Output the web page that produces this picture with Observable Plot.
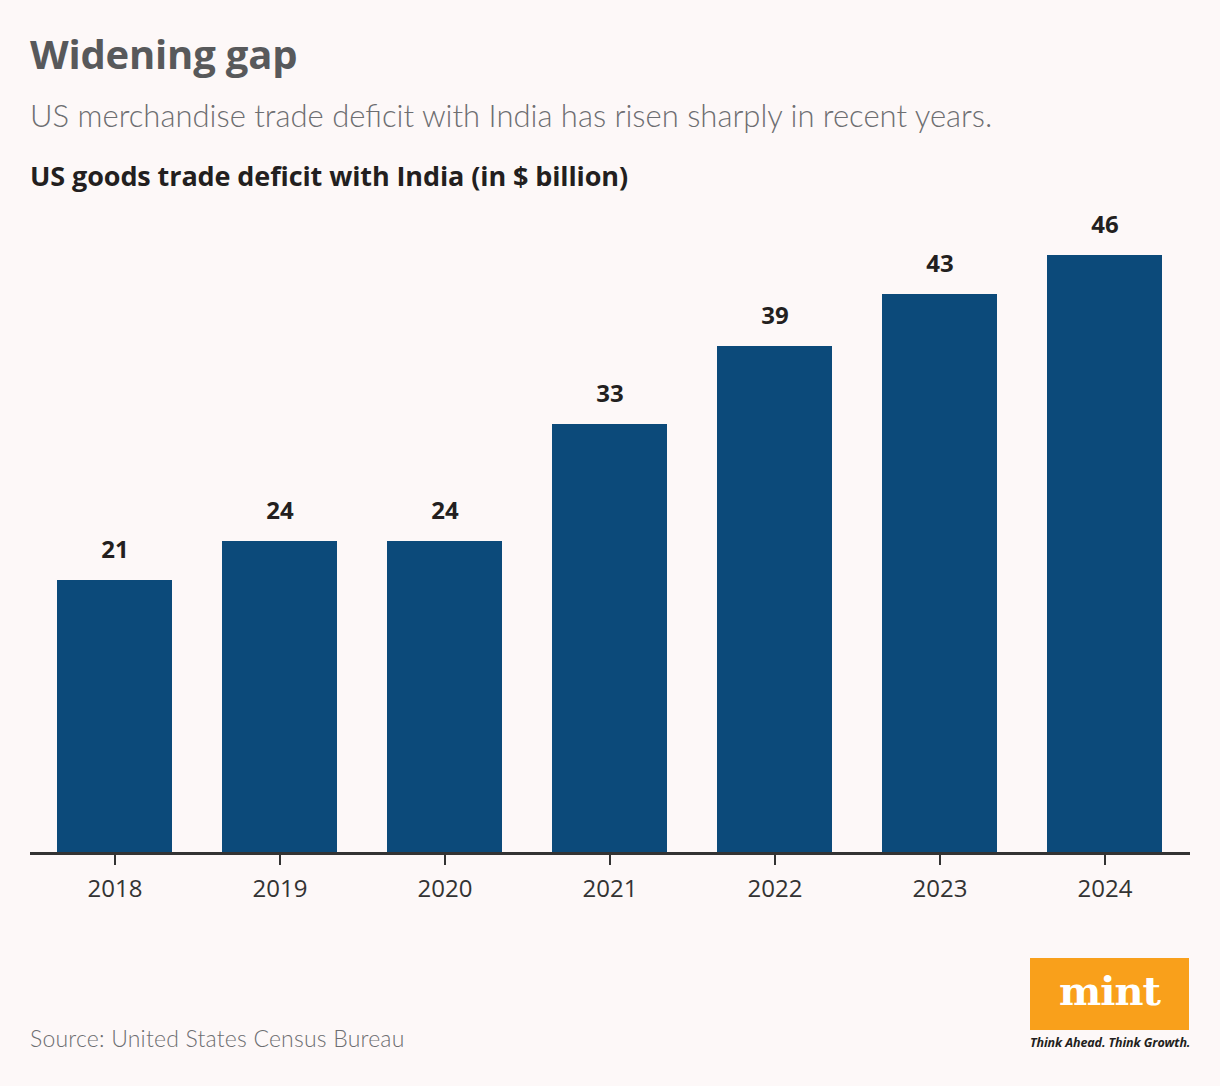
<!DOCTYPE html>
<html>
<head>
<meta charset="utf-8">
<script src="https://cdn.jsdelivr.net/npm/d3@7"></script>
<script src="https://cdn.jsdelivr.net/npm/@observablehq/plot@0.6"></script>
<style>
  html, body { margin: 0; padding: 0; background: #fdf8f8; }
  body { width: 1220px; height: 1086px; position: relative; overflow: hidden; font-family: "Open Sans", Lato, sans-serif; }
  .title { position: absolute; left: 30px; top: 26px; font-size: 40px; font-weight: 700; color: #58595b; letter-spacing: -0.2px; }
  .subtitle { position: absolute; left: 30px; top: 96px; font-size: 31px; font-weight: 300; color: #6d6e71; letter-spacing: 0px; font-family: Lato, "Open Sans", sans-serif; }
  .ctitle { position: absolute; left: 30px; top: 157px; font-size: 27px; font-weight: 700; color: #231f20; letter-spacing: -0.1px; }
  #chart { position: absolute; left: 0; top: 190px; }
  .source { position: absolute; left: 30px; top: 1024px; font-size: 23px; color: #6d6e71; font-family: Lato, "Open Sans", sans-serif; font-weight: 300; letter-spacing: 0.2px; }
  .logo { position: absolute; left: 1030px; top: 958px; width: 159px; height: 72px; background: #f9a01b; color: #fff; font-family: "DejaVu Serif", serif; font-weight: 700; font-size: 40px; text-align: center; line-height: 66px; letter-spacing: -1px; }
  .tag { position: absolute; left: 1030px; top: 1034px; width: 162px; font-size: 12.5px; font-style: italic; font-weight: 700; color: #231f20; font-family: "Open Sans", sans-serif; letter-spacing: -0.1px; white-space: nowrap; }
</style>
</head>
<body>
<div class="title">Widening gap</div>
<div class="subtitle">US merchandise trade deficit with India has risen sharply in recent years.</div>
<div class="ctitle">US goods trade deficit with India (in $ billion)</div>
<div id="chart"></div>
<div class="source">Source: United States Census Bureau</div>
<div class="logo">mint</div>
<div class="tag">Think Ahead. Think Growth.</div>
<script>
const years = ["2018", "2019", "2020", "2021", "2022", "2023", "2024"];
const deficits = [21, 24, 24, 33, 39, 43, 46];

const data = years.map((y, i) => ({year: y, value: deficits[i]}));

const chart = Plot.plot({
  width: 1220,
  height: 730,
  marginLeft: 30,
  marginRight: 30,
  marginTop: 13,
  marginBottom: 67,
  style: {background: "transparent", fontFamily: "'Open Sans', sans-serif"},
  x: {domain: years, paddingInner: 0.3, paddingOuter: 0.15, label: null},
  y: {domain: [0, 50], axis: null},
  marks: [
    Plot.barY(data, {x: "year", y: "value", fill: "#0c4a7a"}),
    Plot.text(data, {x: "year", y: "value", text: d => String(d.value), dy: -30, fontSize: 24, fontWeight: 700, fill: "#231f20"}),
    Plot.ruleY([0], {stroke: "#333", strokeWidth: 3}),
    Plot.axisX({tickSize: 12, tickPadding: 14, fontSize: 24, stroke: "#333", strokeWidth: 2, color: "#333", label: null})
  ]
});
document.getElementById("chart").appendChild(chart);
</script>
</body>
</html>
